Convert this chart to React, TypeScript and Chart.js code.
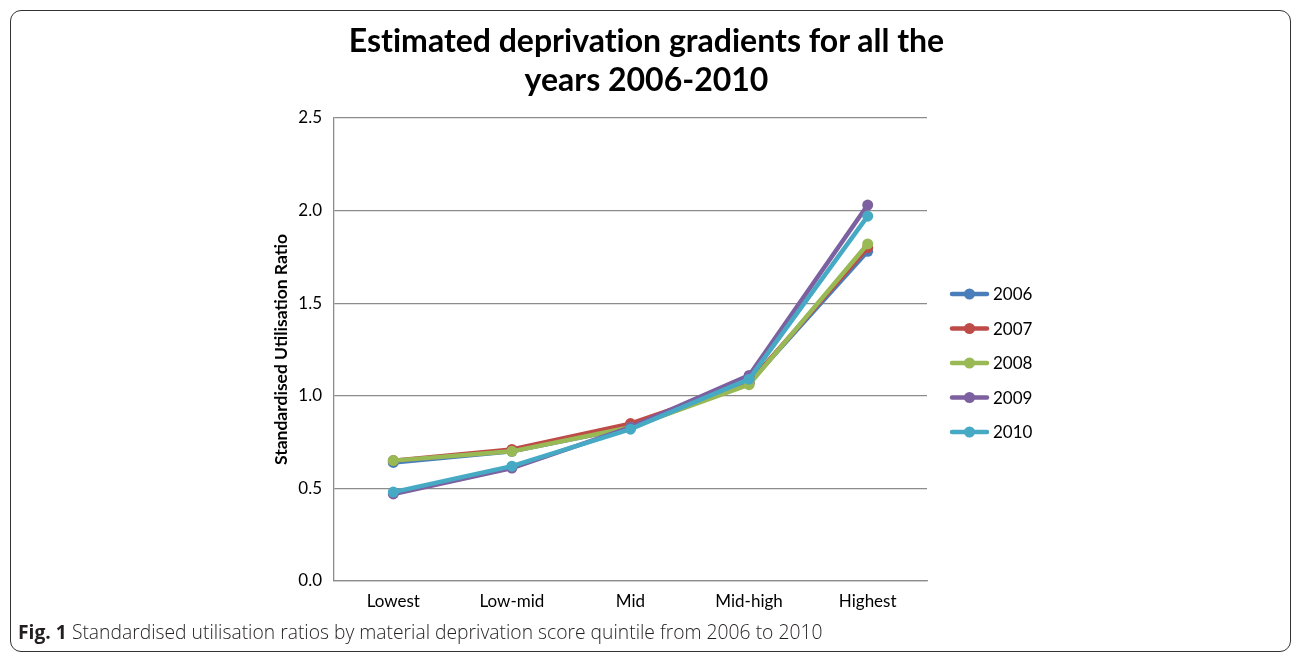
import React, { useEffect, useRef } from "react";
import { Chart, registerables } from "chart.js";

Chart.register(...registerables);

const categories = ["Lowest", "Low-mid", "Mid", "Mid-high", "Highest"];
const seriesNames = ["2006", "2007", "2008", "2009", "2010"];
const s2006 = [0.64, 0.70, 0.83, 1.07, 1.78];
const s2007 = [0.65, 0.71, 0.85, 1.07, 1.80];
const s2008 = [0.65, 0.70, 0.83, 1.06, 1.82];
const s2009 = [0.47, 0.61, 0.83, 1.11, 2.03];
const s2010 = [0.48, 0.62, 0.82, 1.09, 1.97];
const seriesValues = [s2006, s2007, s2008, s2009, s2010];
const seriesColors = ["#4A7EBB", "#BE4B48", "#98B954", "#7D60A0", "#46AAC5"];

const titleLines = ["Estimated deprivation gradients for all the", "years 2006-2010"];
const yAxisTitle = "Standardised Utilisation Ratio";

const legendPlugin = {
  id: "customLegend",
  afterDraw(chart: any) {
    const ctx = chart.ctx;
    ctx.save();
    const x0 = 950;
    const y0 = 294;
    const gap = 34.5;
    chart.data.datasets.forEach((ds: any, i: number) => {
      const y = y0 + i * gap;
      ctx.strokeStyle = ds.borderColor;
      ctx.lineWidth = 4.5;
      ctx.lineCap = "round";
      ctx.beginPath();
      ctx.moveTo(x0 + 2, y);
      ctx.lineTo(x0 + 37, y);
      ctx.stroke();
      ctx.fillStyle = ds.borderColor;
      ctx.beginPath();
      ctx.arc(x0 + 19.5, y, 5.5, 0, Math.PI * 2);
      ctx.fill();
      ctx.fillStyle = "#000";
      ctx.font = "17px Lato";
      ctx.textBaseline = "middle";
      ctx.textAlign = "left";
      ctx.fillText(ds.label, x0 + 43, y + 1);
    });
    ctx.restore();
  },
};

export default function App() {
  const canvasRef = useRef<HTMLCanvasElement | null>(null);

  useEffect(() => {
    if (!canvasRef.current) return;
    const chart = new Chart(canvasRef.current, {
      type: "line",
      data: {
        labels: categories,
        datasets: seriesNames.map((name, i) => ({
          label: name,
          data: seriesValues[i],
          order: -i,
          borderColor: seriesColors[i],
          backgroundColor: seriesColors[i],
          borderWidth: 4.5,
          pointRadius: 5.5,
          pointHoverRadius: 5.5,
          pointBorderWidth: 0,
          tension: 0,
          fill: false,
        })),
      },
      options: {
        animation: false,
        responsive: false,
        layout: { padding: { left: 267, right: 366, top: 118, bottom: 34 } },
        plugins: {
          legend: { display: false },
          title: { display: false },
          tooltip: { enabled: false },
        },
        scales: {
          x: {
            type: "category",
            offset: true,
            grid: { display: false, drawTicks: false },
            border: { display: true, color: "#8C8C8C", width: 1.3 },
            ticks: { color: "#000", font: { family: "Lato", size: 17 }, padding: 10, maxRotation: 0 },
            afterFit(scale: any) {
              scale.height = 40;
            },
          },
          y: {
            min: 0,
            max: 2.5,
            grid: { display: true, drawTicks: false, color: "#8C8C8C", lineWidth: 1.3 },
            border: { display: true, color: "#8C8C8C", width: 1.3 },
            ticks: {
              stepSize: 0.5,
              color: "#000",
              font: { family: "Lato", size: 17 },
              padding: 12,
              callback: (v: any) => Number(v).toFixed(1),
            },
            title: {
              display: true,
              text: yAxisTitle,
              color: "#000",
              font: { family: "Lato", size: 17.5, weight: "bold" },
            },
            afterFit(scale: any) {
              scale.width = 67;
            },
          },
        },
      },
      plugins: [legendPlugin],
    });
    return () => chart.destroy();
  }, []);

  return (
    <div style={{ position: "fixed", left: 0, top: 0, width: 1293, height: 655, background: "#fff", overflow: "hidden" }}>
      <div
        style={{
          position: "absolute",
          left: 10,
          top: 10,
          width: 1281,
          height: 642,
          border: "1.5px solid #333",
          borderRadius: 11,
          boxSizing: "border-box",
        }}
      />
      <canvas ref={canvasRef} width={1293} height={655} style={{ position: "absolute", left: 0, top: 0 }} />
      <div
        style={{
          position: "absolute",
          left: 0,
          width: 1293,
          top: 20,
          textAlign: "center",
          fontFamily: "Lato",
          fontWeight: "bold",
          fontSize: 32,
          lineHeight: "39px",
          color: "#000",
          fontVariantLigatures: "none",
        }}
      >
        {titleLines.map((l, i) => (
          <div key={i}>{l}</div>
        ))}
      </div>
      <div
        style={{
          position: "absolute",
          left: 18,
          top: 619,
          fontFamily: "'Open Sans'",
          fontSize: 19.3,
          lineHeight: "26px",
          fontWeight: 300,
          color: "#231F20",
          whiteSpace: "nowrap",
        }}
      >
        <span style={{ fontWeight: 700 }}>Fig. 1</span> Standardised utilisation ratios by material deprivation score quintile from 2006 to 2010
      </div>
    </div>
  );
}
